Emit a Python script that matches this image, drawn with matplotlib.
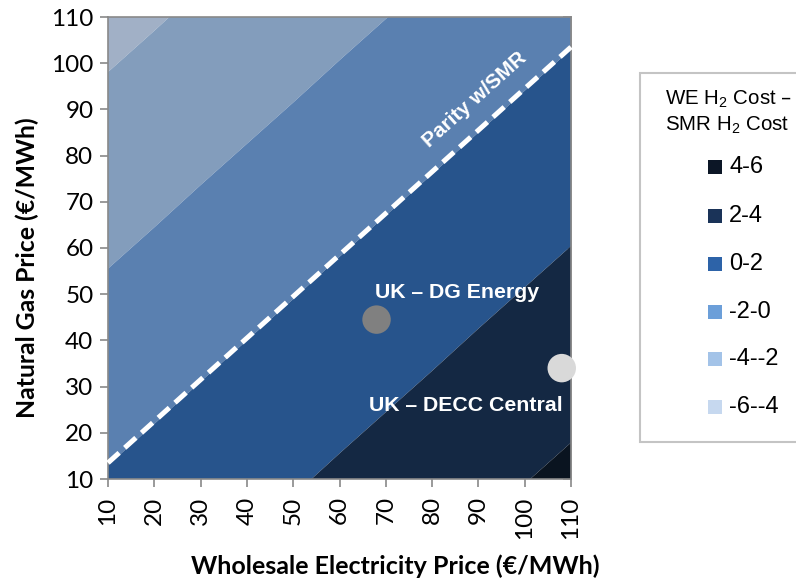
import matplotlib
matplotlib.use("Agg")
import matplotlib.pyplot as plt
from matplotlib.patches import Rectangle
import numpy as np

# ---------------- data ----------------
elec_price = [10, 20, 30, 40, 50, 60, 70, 80, 90, 100, 110]   # €/MWh (x)
gas_price = [10, 20, 30, 40, 50, 60, 70, 80, 90, 100, 110]    # €/MWh (y)
# WE H2 cost - SMR H2 cost, rows = gas price, columns = electricity price
cost_diff = [
    [0.14, 0.56, 0.99, 1.41, 1.83, 2.26, 2.68, 3.10, 3.53, 3.95, 4.37],
    [-0.33, 0.09, 0.52, 0.94, 1.36, 1.79, 2.21, 2.63, 3.06, 3.48, 3.90],
    [-0.80, -0.38, 0.05, 0.47, 0.89, 1.32, 1.74, 2.16, 2.59, 3.01, 3.43],
    [-1.27, -0.85, -0.42, 0.00, 0.42, 0.85, 1.27, 1.69, 2.12, 2.54, 2.96],
    [-1.74, -1.32, -0.89, -0.47, -0.05, 0.38, 0.80, 1.22, 1.65, 2.07, 2.49],
    [-2.21, -1.79, -1.36, -0.94, -0.52, -0.09, 0.33, 0.75, 1.18, 1.60, 2.02],
    [-2.68, -2.26, -1.83, -1.41, -0.99, -0.56, -0.14, 0.28, 0.71, 1.13, 1.55],
    [-3.15, -2.73, -2.30, -1.88, -1.46, -1.03, -0.61, -0.19, 0.24, 0.66, 1.08],
    [-3.62, -3.20, -2.77, -2.35, -1.93, -1.50, -1.08, -0.66, -0.24, 0.19, 0.61],
    [-4.09, -3.67, -3.24, -2.82, -2.40, -1.97, -1.55, -1.13, -0.71, -0.28, 0.14],
    [-4.56, -4.14, -3.71, -3.29, -2.87, -2.44, -2.02, -1.60, -1.18, -0.75, -0.33],
]
band_levels = [-6, -4, -2, 0, 2, 4, 6]
band_labels = ["-6--4", "-4--2", "-2-0", "0-2", "2-4", "4-6"]

parity_x = [10, 110]
parity_y = [13.5, 103.5]

point_names = ["UK – DG Energy", "UK – DECC Central"]
point_x = [68, 108]
point_y = [44.5, 34]

x_ticks = [10, 20, 30, 40, 50, 60, 70, 80, 90, 100, 110]
y_ticks = [10, 20, 30, 40, 50, 60, 70, 80, 90, 100, 110]

# ---------------- style ----------------
plot_colors = ["#a1b0c6", "#839dbc", "#5a80b0", "#27548c", "#142843", "#0a1420"]
legend_colors = ["#c6d8ef", "#a3c3e8", "#6c9fd9", "#2d63a8", "#1a3358", "#0c1626"]
point_colors = ["#808080", "#d9d9d9"]
axis_gray = "#898989"

plt.rcParams["mathtext.default"] = "regular"

W, H = 796, 585
fig = plt.figure(figsize=(W / 100, H / 100), dpi=100)

def fx(px):
    return px / W

def fy(py):
    return 1 - py / H

ax_l, ax_r, ax_t, ax_b = 108, 571, 17, 479
ax = fig.add_axes([fx(ax_l), fy(ax_b), (ax_r - ax_l) / W, (ax_b - ax_t) / H])

X, Y = np.meshgrid(elec_price, gas_price)
Z = np.array(cost_diff)
ax.contourf(X, Y, Z, levels=band_levels, colors=plot_colors, antialiased=True)

ax.plot(parity_x, parity_y, color="white", lw=3.6, dashes=(3.0, 1.5),
        solid_capstyle="butt", dash_capstyle="butt", clip_on=False, zorder=4)
ax.text(89.3, 92.2, "Parity w/SMR", color="white", fontsize=15, fontweight="bold",
        family="Liberation Sans", rotation=42, ha="center", va="center",
        rotation_mode="anchor", zorder=5)

ax.scatter(point_x, point_y, s=420, c=point_colors, edgecolors="none",
           clip_on=False, zorder=6)
ax.text(85.4, 50.3, point_names[0], color="white", fontsize=15.3, fontweight="bold",
        family="Liberation Sans", ha="center", va="center", zorder=5)
ax.text(87.3, 26.0, point_names[1], color="white", fontsize=15.3, fontweight="bold",
        family="Liberation Sans", ha="center", va="center", zorder=5)

ax.set_xlim(10, 110)
ax.set_ylim(10, 110)
ax.set_xticks(x_ticks)
ax.set_yticks(y_ticks)
ax.set_xticklabels([str(v) for v in x_ticks], rotation=90, family="Lato", fontsize=17.5)
ax.set_yticklabels([str(v) for v in y_ticks], family="Lato", fontsize=17.5)
ax.tick_params(axis="both", length=5.5, width=1.2, color=axis_gray, direction="out")
ax.tick_params(axis="y", pad=5)
ax.tick_params(axis="x", pad=7)
for s in ax.spines.values():
    s.set_color(axis_gray)
    s.set_linewidth(1.2)

sec = ax.secondary_yaxis("right")
sec.set_yticks(y_ticks)
sec.tick_params(direction="in", length=5.5, width=1.2, color=axis_gray, labelright=False)
sec.spines["right"].set_color(axis_gray)
sec.spines["right"].set_linewidth(1.2)

fig.text(fx(27), fy(268), "Natural Gas Price (€/MWh)", rotation=90, ha="center", va="center",
         family="Lato", fontweight="bold", fontsize=17.8)
fig.text(fx(395), fy(566), "Wholesale Electricity Price (€/MWh)", ha="center", va="center",
         family="Lato", fontweight="bold", fontsize=18)

# ---------------- legend ----------------
fig.patches.append(Rectangle((fx(640), fy(442)), (800 - 640) / W, (442 - 73) / H,
                             transform=fig.transFigure, facecolor="white",
                             edgecolor="#c4c4c4", linewidth=1.5, zorder=1))
fig.text(fx(665), fy(99), "WE H$_2$ Cost –", family="Liberation Sans", fontsize=14.8,
         ha="left", va="center")
fig.text(fx(665), fy(125), "SMR H$_2$ Cost", family="Liberation Sans", fontsize=14.8,
         ha="left", va="center")
entry_y = [407, 359, 312, 264, 216, 167]
for lab, col, yy in zip(band_labels, legend_colors, entry_y):
    fig.patches.append(Rectangle((fx(708), fy(yy + 7)), 14 / W, 14 / H,
                                 transform=fig.transFigure, facecolor=col,
                                 edgecolor="none", zorder=2))
    fig.text(fx(729), fy(yy), lab, family="Liberation Sans", fontsize=17,
             ha="left", va="center")

fig.savefig("out.png", dpi=100)
